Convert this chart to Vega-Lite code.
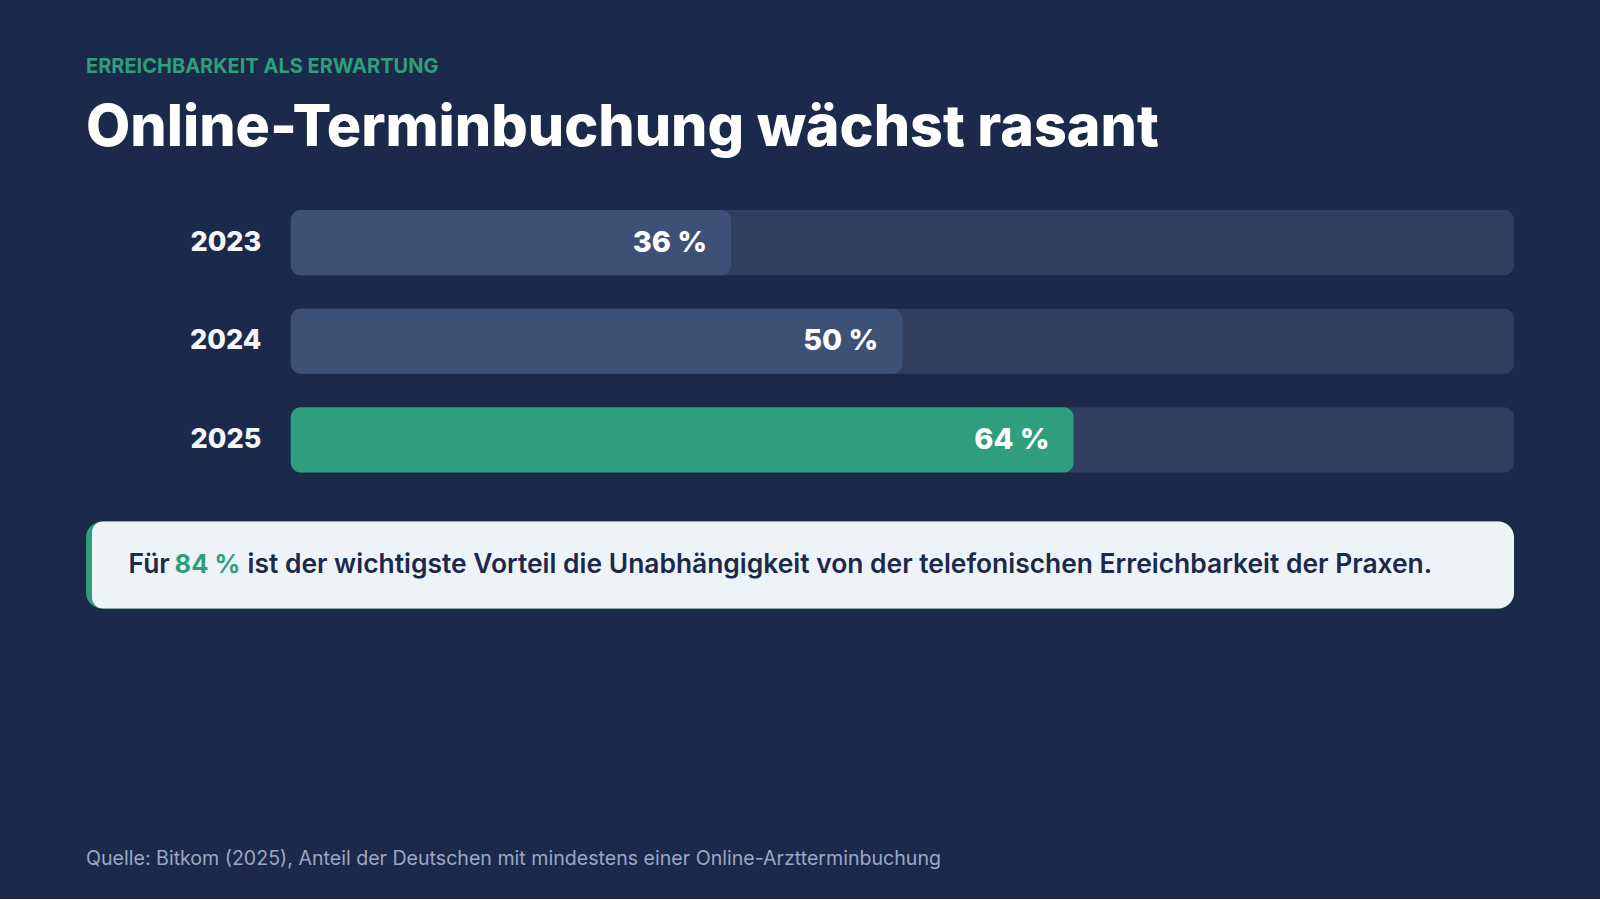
{
  "$schema": "https://vega.github.io/schema/vega-lite/v6.json",
  "background": "#1b2a4a",
  "padding": {"left": 86, "right": 86, "top": 57, "bottom": 30},
  "config": {"view": {"stroke": null}, "font": "Inter"},
  "spacing": 48.5,
  "title": {
    "text": "ERREICHBARKEIT ALS ERWARTUNG",
    "subtitle": "Online-Terminbuchung wächst rasant",
    "anchor": "start",
    "frame": "bounds",
    "font": "Inter",
    "fontSize": 20,
    "fontWeight": "bold",
    "color": "#2e9e7d",
    "subtitleFont": "Inter",
    "subtitleFontSize": 57.3,
    "subtitleFontWeight": 800,
    "subtitleColor": "#ffffff",
    "subtitlePadding": 24,
    "offset": 52.7
  },
  "vconcat": [
    {
      "width": 1428,
      "height": 262.5,
      "data": {"values": [
        {"year": "2023", "value": 36, "label": "36 %"},
        {"year": "2024", "value": 50, "label": "50 %"},
        {"year": "2025", "value": 64, "label": "64 %"}
      ]},
      "encoding": {
        "y": {
          "field": "year", "type": "nominal", "sort": null,
          "scale": {"paddingInner": 0.34, "paddingOuter": 0},
          "axis": {"title": null, "domain": false, "ticks": false, "offset": -204.8, "labelPadding": 30, "labelFontSize": 27, "labelFontWeight": 800, "labelColor": "#f4f6fa", "labelFont": "Inter"}
        }
      },
      "layer": [
        {
          "mark": {"type": "bar", "cornerRadius": 10, "color": "#303f5e"},
          "encoding": {
            "x": {"datum": 100, "type": "quantitative", "scale": {"domain": [-16.74, 100], "nice": false, "zero": false}, "axis": null},
            "x2": {"datum": 0}
          }
        },
        {
          "mark": {"type": "bar", "cornerRadius": 10},
          "encoding": {
            "x": {"field": "value", "type": "quantitative", "scale": {"domain": [-16.74, 100], "nice": false, "zero": false}, "axis": null},
            "x2": {"datum": 0},
            "color": {"field": "year", "type": "nominal", "scale": {"domain": ["2023", "2024", "2025"], "range": ["#3d5177", "#3d5177", "#2e9e7d"]}, "legend": null}
          }
        },
        {
          "mark": {"type": "text", "align": "right", "baseline": "middle", "dx": -24, "fontSize": 29, "fontWeight": 800, "color": "#ffffff", "font": "Inter"},
          "encoding": {
            "x": {"field": "value", "type": "quantitative", "scale": {"domain": [-16.74, 100], "nice": false, "zero": false}, "axis": null},
            "text": {"field": "label"}
          }
        }
      ]
    },
    {
      "width": 1428,
      "height": 87,
      "data": {"values": [
        {"lead": "Für", "highlight": "84 %", "rest": "ist der wichtigste Vorteil die Unabhängigkeit von der telefonischen Erreichbarkeit der Praxen."}
      ]},
      "title": {
        "text": "Quelle: Bitkom (2025), Anteil der Deutschen mit mindestens einer Online-Arztterminbuchung",
        "orient": "bottom", "anchor": "start", "frame": "bounds", "offset": 241.5,
        "font": "Inter", "fontSize": 19.6, "fontWeight": "normal", "color": "#9aa8c4"
      },
      "layer": [
        {
          "mark": {"type": "rect", "cornerRadius": 16, "color": "#2e9e7d"},
          "encoding": {
            "x": {"datum": 0, "type": "quantitative", "scale": {"domain": [0, 100], "nice": false, "zero": false}, "axis": null},
            "x2": {"datum": 100}
          }
        },
        {
          "mark": {"type": "rect", "cornerRadiusTopLeft": 11, "cornerRadiusBottomLeft": 11, "cornerRadiusTopRight": 16, "cornerRadiusBottomRight": 16, "color": "#eef3f8"},
          "encoding": {
            "x": {"datum": 0.42, "type": "quantitative", "scale": {"domain": [0, 100], "nice": false, "zero": false}, "axis": null},
            "x2": {"datum": 100}
          }
        },
        {
          "mark": {"type": "text", "align": "left", "baseline": "middle", "fontSize": 26.4, "fontWeight": 600, "color": "#1b2a4a", "font": "Inter"},
          "encoding": {
            "x": {"datum": 2.98, "type": "quantitative", "scale": {"domain": [0, 100], "nice": false, "zero": false}, "axis": null},
            "text": {"field": "lead"}
          }
        },
        {
          "mark": {"type": "text", "align": "left", "baseline": "middle", "dx": 46, "fontSize": 25.5, "fontWeight": 700, "color": "#2e9e7d", "font": "Inter"},
          "encoding": {
            "x": {"datum": 2.98, "type": "quantitative", "scale": {"domain": [0, 100], "nice": false, "zero": false}, "axis": null},
            "text": {"field": "highlight"}
          }
        },
        {
          "mark": {"type": "text", "align": "left", "baseline": "middle", "dx": 119, "fontSize": 26.4, "fontWeight": 600, "color": "#1b2a4a", "font": "Inter"},
          "encoding": {
            "x": {"datum": 2.98, "type": "quantitative", "scale": {"domain": [0, 100], "nice": false, "zero": false}, "axis": null},
            "text": {"field": "rest"}
          }
        }
      ]
    }
  ]
}
